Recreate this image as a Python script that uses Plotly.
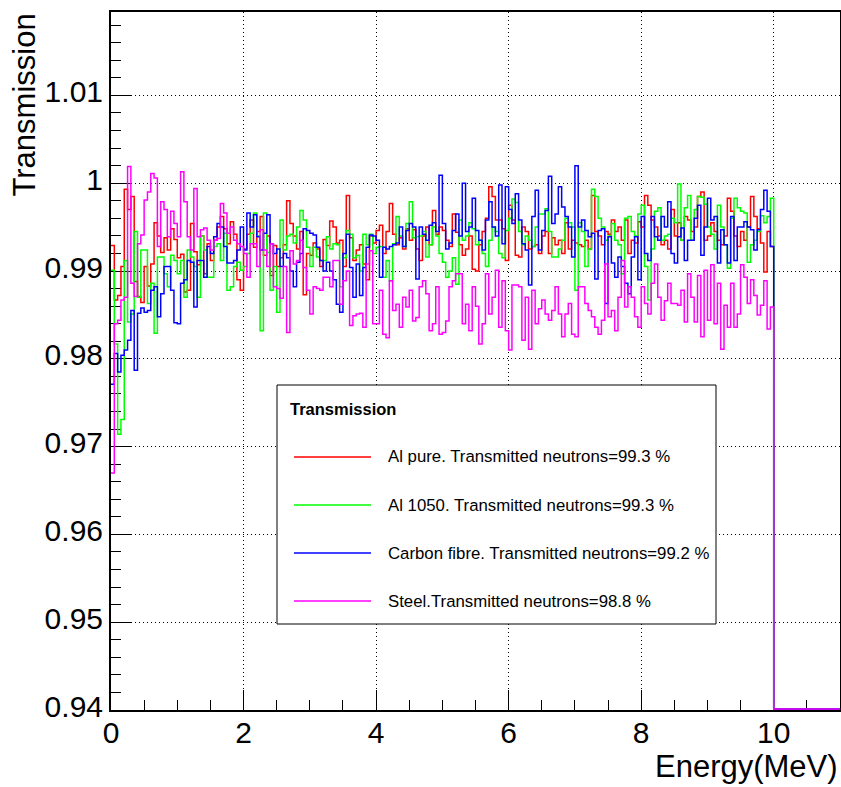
import numpy as np
import plotly.graph_objects as go

# Histogram binning (MeV): 220 bins over 0-11, entries only up to 10 MeV
E_MIN, E_MAX, BIN_W = 0.0, 11.0, 0.05

# Bin contents (transmission per 50 keV bin, 0-10 MeV)
al_pure = [
    0.9929, 0.9867, 0.9872, 0.9905, 0.9993, 0.9970, 0.9985, 0.9888, 0.9871, 0.9864,
    0.9905, 0.9883, 0.9908, 0.9955, 0.9940, 0.9921, 0.9938, 0.9924, 0.9948, 0.9936,
    0.9915, 0.9919, 0.9876, 0.9878, 0.9954, 0.9922, 0.9907, 0.9940, 0.9897, 0.9931,
    0.9912, 0.9935, 0.9950, 0.9962, 0.9948, 0.9931, 0.9956, 0.9942, 0.9890, 0.9878,
    0.9925, 0.9942, 0.9958, 0.9927, 0.9945, 0.9962, 0.9918, 0.9940, 0.9895, 0.9929,
    0.9905, 0.9915, 0.9930, 0.9980, 0.9954, 0.9940, 0.9925, 0.9945, 0.9873, 0.9920,
    0.9918, 0.9932, 0.9925, 0.9905, 0.9936, 0.9929, 0.9957, 0.9950, 0.9932, 0.9935,
    0.9905, 0.9986, 0.9938, 0.9912, 0.9924, 0.9930, 0.9908, 0.9890, 0.9940, 0.9932,
    0.9946, 0.9952, 0.9920, 0.9945, 0.9977, 0.9942, 0.9930, 0.9938, 0.9925, 0.9948,
    0.9935, 0.9947, 0.9925, 0.9912, 0.9940, 0.9950, 0.9930, 0.9969, 0.9942, 0.9950,
    0.9946, 0.9935, 0.9928, 0.9965, 0.9944, 0.9930, 0.9918, 0.9925, 0.9940, 0.9902,
    0.9900, 0.9930, 0.9945, 0.9960, 0.9996, 0.9985, 0.9958, 0.9958, 0.9948, 0.9912,
    0.9975, 0.9958, 0.9918, 0.9916, 0.9950, 0.9945, 0.9925, 0.9928, 0.9930, 0.9920,
    0.9940, 0.9945, 0.9920, 0.9938, 0.9930, 0.9935, 0.9920, 0.9955, 0.9925, 0.9935,
    0.9932, 0.9930, 0.9928, 0.9935, 0.9925, 0.9986, 0.9945, 0.9940, 0.9930, 0.9945,
    0.9942, 0.9958, 0.9945, 0.9950, 0.9935, 0.9958, 0.9920, 0.9935, 0.9932, 0.9956,
    0.9950, 0.9986, 0.9975, 0.9958, 0.9950, 0.9940, 0.9930, 0.9935, 0.9925, 0.9970,
    0.9940, 0.9955, 0.9935, 0.9962, 0.9958, 0.9945, 0.9950, 0.9985, 0.9990, 0.9935,
    0.9940, 0.9955, 0.9945, 0.9935, 0.9930, 0.9940, 0.9983, 0.9968, 0.9940, 0.9928,
    0.9945, 0.9935, 0.9950, 0.9985, 0.9962, 0.9948, 0.9932, 0.9899, 0.9945, 0.9928,
]

al_1050 = [
    0.9901, 0.9817, 0.9714, 0.9731, 0.9912, 0.9842, 0.9851, 0.9945, 0.9870, 0.9924,
    0.9924, 0.9863, 0.9886, 0.9829, 0.9916, 0.9916, 0.9897, 0.9882, 0.9918, 0.9912,
    0.9897, 0.9912, 0.9870, 0.9924, 0.9916, 0.9905, 0.9870, 0.9940, 0.9924, 0.9893,
    0.9893, 0.9928, 0.9931, 0.9912, 0.9943, 0.9878, 0.9882, 0.9905, 0.9910, 0.9901,
    0.9905, 0.9920, 0.9943, 0.9966, 0.9940, 0.9832, 0.9966, 0.9921, 0.9878, 0.9905,
    0.9853, 0.9958, 0.9924, 0.9940, 0.9942, 0.9932, 0.9950, 0.9969, 0.9958, 0.9927,
    0.9905, 0.9927, 0.9916, 0.9912, 0.9912, 0.9939, 0.9925, 0.9931, 0.9930, 0.9882,
    0.9915, 0.9946, 0.9942, 0.9915, 0.9918, 0.9900, 0.9942, 0.9930, 0.9942, 0.9920,
    0.9927, 0.9928, 0.9893, 0.9912, 0.9889, 0.9931, 0.9962, 0.9940, 0.9928, 0.9954,
    0.9979, 0.9938, 0.9939, 0.9940, 0.9945, 0.9916, 0.9930, 0.9950, 0.9940, 0.9920,
    0.9910, 0.9893, 0.9900, 0.9915, 0.9885, 0.9958, 0.9935, 0.9940, 0.9955, 0.9948,
    0.9930, 0.9935, 0.9920, 0.9905, 0.9935, 0.9950, 0.9945, 0.9920, 0.9915, 0.9946,
    0.9960, 0.9982, 0.9978, 0.9945, 0.9930, 0.9940, 0.9935, 0.9928, 0.9950, 0.9965,
    0.9965, 0.9971, 0.9945, 0.9916, 0.9916, 0.9925, 0.9935, 0.9960, 0.9955, 0.9950,
    0.9878, 0.9955, 0.9945, 0.9905, 0.9925, 0.9993, 0.9985, 0.9960, 0.9950, 0.9935,
    0.9940, 0.9954, 0.9935, 0.9930, 0.9897, 0.9960, 0.9962, 0.9945, 0.9940, 0.9965,
    0.9975, 0.9905, 0.9867, 0.9925, 0.9968, 0.9972, 0.9935, 0.9940, 0.9942, 0.9960,
    0.9955, 0.9999, 0.9935, 0.9972, 0.9986, 0.9935, 0.9970, 0.9985, 0.9984, 0.9976,
    0.9950, 0.9942, 0.9925, 0.9975, 0.9950, 0.9930, 0.9903, 0.9960, 0.9983, 0.9972,
    0.9968, 0.9966, 0.9910, 0.9930, 0.9935, 0.9945, 0.9963, 0.9955, 0.9962, 0.9983,
]

carbon_fibre = [
    0.9771, 0.9806, 0.9785, 0.9804, 0.9810, 0.9821, 0.9855, 0.9787, 0.9852, 0.9858,
    0.9853, 0.9855, 0.9878, 0.9882, 0.9848, 0.9874, 0.9905, 0.9905, 0.9878, 0.9841,
    0.9840, 0.9886, 0.9890, 0.9912, 0.9910, 0.9859, 0.9912, 0.9912, 0.9893, 0.9928,
    0.9920, 0.9939, 0.9954, 0.9950, 0.9928, 0.9909, 0.9909, 0.9912, 0.9924, 0.9950,
    0.9924, 0.9966, 0.9950, 0.9964, 0.9939, 0.9924, 0.9943, 0.9964, 0.9931, 0.9920,
    0.9925, 0.9905, 0.9920, 0.9915, 0.9900, 0.9882, 0.9910, 0.9920, 0.9948, 0.9946,
    0.9943, 0.9941, 0.9927, 0.9912, 0.9900, 0.9910, 0.9900, 0.9890, 0.9862, 0.9853,
    0.9920, 0.9942, 0.9904, 0.9870, 0.9908, 0.9872, 0.9904, 0.9927, 0.9941, 0.9940,
    0.9935, 0.9893, 0.9927, 0.9925, 0.9928, 0.9930, 0.9932, 0.9950, 0.9928, 0.9946,
    0.9954, 0.9950, 0.9891, 0.9950, 0.9942, 0.9935, 0.9952, 0.9955, 0.9945, 1.0009,
    0.9954, 0.9925, 0.9932, 0.9946, 0.9965, 0.9940, 1.0000, 0.9945, 0.9950, 0.9983,
    0.9946, 0.9935, 0.9924, 0.9958, 0.9979, 0.9950, 0.9940, 0.9998, 0.9931, 0.9996,
    0.9970, 0.9954, 0.9988, 0.9958, 0.9931, 0.9924, 0.9884, 0.9962, 0.9992, 0.9924,
    0.9946, 0.9969, 1.0008, 0.9954, 0.9965, 0.9996, 0.9973, 0.9962, 0.9950, 0.9916,
    1.0020, 0.9950, 0.9958, 0.9946, 0.9939, 0.9943, 0.9891, 0.9946, 0.9948, 0.9863,
    0.9939, 0.9909, 0.9893, 0.9916, 0.9905, 0.9886, 0.9874, 0.9916, 0.9939, 0.9890,
    0.9962, 0.9920, 0.9912, 0.9962, 0.9939, 0.9935, 0.9962, 0.9950, 0.9979, 0.9920,
    0.9909, 0.9939, 0.9949, 0.9912, 0.9935, 0.9935, 0.9960, 0.9975, 0.9918, 0.9950,
    0.9983, 0.9958, 0.9962, 0.9909, 0.9947, 0.9930, 0.9909, 0.9962, 0.9912, 0.9950,
    0.9950, 0.9956, 0.9950, 0.9947, 0.9924, 0.9947, 0.9970, 0.9992, 0.9968, 0.9928,
]

steel = [
    0.9670, 0.9840, 0.9844, 0.9867, 0.9870, 1.0019, 0.9886, 0.9871, 0.9931, 0.9941,
    0.9981, 0.9990, 1.0011, 1.0006, 0.9928, 0.9979, 0.9970, 0.9939, 0.9968, 0.9954,
    0.9939, 1.0013, 0.9979, 0.9939, 0.9924, 0.9994, 0.9939, 0.9947, 0.9949, 0.9935,
    0.9924, 0.9935, 0.9937, 0.9977, 0.9966, 0.9943, 0.9950, 0.9935, 0.9931, 0.9928,
    0.9920, 0.9893, 0.9931, 0.9931, 0.9905, 0.9947, 0.9924, 0.9905, 0.9931, 0.9882,
    0.9880, 0.9869, 0.9905, 0.9830, 0.9923, 0.9908, 0.9912, 0.9935, 0.9904, 0.9878,
    0.9851, 0.9882, 0.9880, 0.9878, 0.9893, 0.9893, 0.9882, 0.9912, 0.9912, 0.9862,
    0.9889, 0.9900, 0.9838, 0.9849, 0.9851, 0.9852, 0.9836, 0.9908, 0.9923, 0.9840,
    0.9840, 0.9878, 0.9828, 0.9824, 0.9889, 0.9855, 0.9862, 0.9836, 0.9870, 0.9859,
    0.9878, 0.9843, 0.9847, 0.9882, 0.9889, 0.9874, 0.9832, 0.9840, 0.9882, 0.9828,
    0.9830, 0.9843, 0.9882, 0.9889, 0.9897, 0.9897, 0.9840, 0.9862, 0.9832, 0.9882,
    0.9860, 0.9817, 0.9840, 0.9897, 0.9851, 0.9870, 0.9901, 0.9836, 0.9889, 0.9832,
    0.9810, 0.9884, 0.9884, 0.9882, 0.9821, 0.9870, 0.9811, 0.9878, 0.9840, 0.9857,
    0.9867, 0.9851, 0.9844, 0.9855, 0.9882, 0.9851, 0.9825, 0.9851, 0.9863, 0.9828,
    0.9825, 0.9882, 0.9882, 0.9863, 0.9855, 0.9848, 0.9836, 0.9828, 0.9844, 0.9908,
    0.9848, 0.9855, 0.9832, 0.9870, 0.9912, 0.9859, 0.9882, 0.9870, 0.9848, 0.9836,
    0.9882, 0.9863, 0.9851, 0.9886, 0.9908, 0.9870, 0.9844, 0.9866, 0.9886, 0.9863,
    0.9863, 0.9861, 0.9878, 0.9842, 0.9897, 0.9870, 0.9842, 0.9895, 0.9825, 0.9901,
    0.9844, 0.9907, 0.9840, 0.9886, 0.9811, 0.9861, 0.9836, 0.9886, 0.9836, 0.9851,
    0.9907, 0.9893, 0.9863, 0.9890, 0.9872, 0.9850, 0.9861, 0.9889, 0.9834, 0.9859,
]

series_values = [al_pure, al_1050, carbon_fibre, steel]
series_names = [
    "Al pure. Transmitted neutrons=99.3 %",
    "Al 1050. Transmitted neutrons=99.3 %",
    "Carbon fibre. Transmitted neutrons=99.2 %",
    "Steel.Transmitted neutrons=98.8 %",
]
series_colors = ["#ff0000", "#00ff00", "#0000ff", "#ff00ff"]
legend_title = "Transmission"

x_tickvals = [0, 2, 4, 6, 8, 10]
x_ticktext = ["0", "2", "4", "6", "8", "10"]
y_tickvals = [0.94, 0.95, 0.96, 0.97, 0.98, 0.99, 1.00, 1.01]
y_ticktext = ["0.94", "0.95", "0.96", "0.97", "0.98", "0.99", "1", "1.01"]
X_RANGE = [0.0, 11.0]
Y_RANGE = [0.94, 1.0195]

# ---- figure geometry (pixels) ----
W, H = 841, 787
ML, MR, MT, MB = 111, 1, 12, 77
PW, PH = W - ML - MR, H - MT - MB


def px(xp):
    return (xp - ML) / PW


def py(yp):
    return (H - MB - yp) / PH


FONT = "Liberation Sans, Arial, Helvetica, sans-serif"

n_bins = int(round((E_MAX - E_MIN) / BIN_W))
edges = E_MIN + BIN_W * np.arange(n_bins + 1)
# empty bins are drawn along the bottom edge of the frame (one pixel inside it)
floor_level = Y_RANGE[0] + (Y_RANGE[1] - Y_RANGE[0]) / PH

fig = go.Figure()
for vals, name, color in zip(series_values, series_names, series_colors):
    contents = np.concatenate([np.asarray(vals, float), np.zeros(n_bins - len(vals))])
    drawn = np.maximum(contents, floor_level)
    fig.add_trace(go.Scatter(
        x=edges, y=np.append(drawn, drawn[-1]), mode="lines", name=name,
        line=dict(color=color, width=1.5, shape="hv"), hoverinfo="skip",
    ))

axis_common = dict(
    showline=True, linecolor="black", linewidth=2, mirror=True,
    ticks="inside", ticklen=20, tickwidth=1, tickcolor="black",
    showgrid=True, gridcolor="black", gridwidth=1, griddash="1px,3px",
    zeroline=False, tickfont=dict(family=FONT, size=30, color="black"),
    layer="below traces",
)
fig.update_xaxes(
    range=X_RANGE, tickmode="array", tickvals=x_tickvals, ticktext=x_ticktext,
    minor=dict(tickmode="linear", tick0=0, dtick=0.5, ticks="inside", ticklen=10,
               tickwidth=1, tickcolor="black", showgrid=False),
    ticklabelstandoff=-5,
    **axis_common,
)
fig.update_yaxes(
    range=Y_RANGE, tickmode="array", tickvals=y_tickvals, ticktext=y_ticktext,
    minor=dict(tickmode="linear", tick0=0.94, dtick=0.002, ticks="inside", ticklen=10,
               tickwidth=1, tickcolor="black", showgrid=False),
    ticklabelshift=-4,
    **axis_common,
)

annotations = [
    dict(text="Transmission", textangle=-90, xref="paper", yref="paper",
         x=px(24), y=py(12), xanchor="center", yanchor="top", showarrow=False,
         font=dict(family=FONT, size=31, color="black")),
    dict(text="Energy(MeV)", xref="paper", yref="paper",
         x=px(840), y=py(766), xanchor="right", yanchor="middle", showarrow=False,
         font=dict(family=FONT, size=31, color="black")),
]

# legend box
shapes = [dict(type="rect", xref="paper", yref="paper", layer="above",
               x0=px(277), x1=px(716), y0=py(624), y1=py(385),
               line=dict(color="black", width=1), fillcolor="white")]
annotations.append(dict(text="<b>%s</b>" % legend_title, xref="paper", yref="paper",
                        x=px(288), y=py(409), xanchor="left", yanchor="middle",
                        showarrow=False, font=dict(family=FONT, size=16.5, color="black")))
row_y = [457, 505, 553, 601]
for ry, name, color in zip(row_y, series_names, series_colors):
    shapes.append(dict(type="line", xref="paper", yref="paper", layer="above",
                       x0=px(294), x1=px(371), y0=py(ry), y1=py(ry),
                       line=dict(color=color, width=1.5)))
    annotations.append(dict(text=name, xref="paper", yref="paper",
                            x=px(386), y=py(ry), xanchor="left", yanchor="middle",
                            showarrow=False, font=dict(family=FONT, size=16.8, color="black")))

fig.update_layout(
    width=W, height=H, margin=dict(l=ML, r=MR, t=MT, b=MB, autoexpand=False),
    plot_bgcolor="white", paper_bgcolor="white", showlegend=False,
    font=dict(family=FONT, color="black"),
    shapes=shapes, annotations=annotations,
)

fig.write_html("out.html")
